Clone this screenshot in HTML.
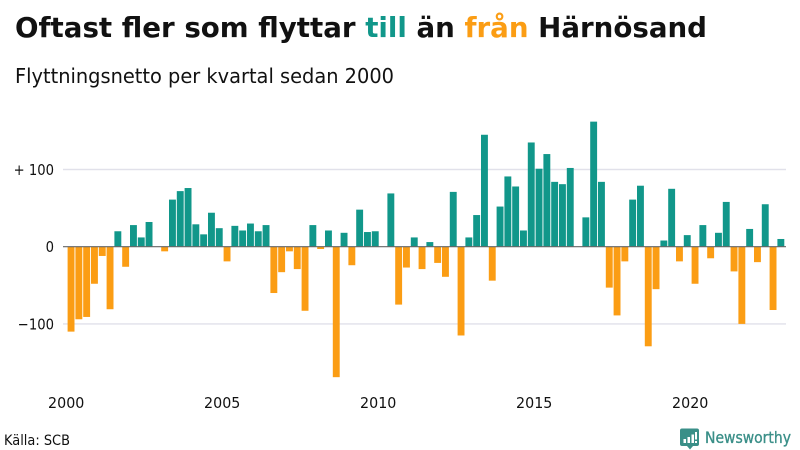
<!DOCTYPE html>
<html lang="sv">
<head>
<meta charset="utf-8">
<title>Oftast fler som flyttar till än från Härnösand</title>
<style>
html,body{margin:0;padding:0;background:#fff;width:800px;height:450px;overflow:hidden}
svg{display:block}
text{font-family:"DejaVu Sans","Liberation Sans",sans-serif;fill:#111}
</style>
</head>
<body>
<svg id="chart" width="800" height="450" viewBox="0 0 800 450" xmlns="http://www.w3.org/2000/svg">
<text x="15" y="37" font-size="28" font-weight="700" textLength="692" lengthAdjust="spacingAndGlyphs">Oftast fler som flyttar <tspan style="fill:#11978a">till</tspan> än <tspan style="fill:#fb9d14">från</tspan> Härnösand</text>
<text x="15" y="83" font-size="20.500" textLength="379" lengthAdjust="spacingAndGlyphs">Flyttningsnetto per kvartal sedan 2000</text>
<g id="grid"></g>
<g id="bars"></g>
<g id="zero"></g>
<g id="yticks"></g>
<g id="xticks"></g>
<text x="4" y="445" font-size="14.500" textLength="66" lengthAdjust="spacingAndGlyphs">Källa: SCB</text>
<g>
<path d="M682 428.500h15a2 2 0 0 1 2 2v13.500a2 2 0 0 1-2 2h-4l-3 3.500-3-3.500h-5a2 2 0 0 1-2-2v-13.500a2 2 0 0 1 2-2z" fill="#3a8f88"/>
<path d="M683.500 443v-4h2.500v4zM687.500 443v-6h2.500v6zM691.500 443v-8.500h2.500v8.500zM695 443v-2h2v2zM695 439.500v-7.500h2v7.500z" fill="#fff"/>
<text x="705" y="443" font-size="16" stroke="#3a8f88" stroke-width="0.35" textLength="86" lengthAdjust="spacingAndGlyphs" style="fill:#3a8f88">Newsworthy</text>
</g>
</svg>
<script>
const startYear = 2000;
const quarterValues = [
  -110, -94, -91, -48, -12, -81, 20, -26, 28, 12, 32, 0,
  -6, 61, 72, 76, 29, 16, 44, 24, -19, 27, 21, 30,
  20, 28, -60, -33, -6, -29, -83, 28, -3, 21, -169, 18,
  -24, 48, 19, 20, 0, 69, -75, -27, 12, -29, 6, -21,
  -39, 71, -115, 12, 41, 145, -44, 52, 91, 78, 21, 135,
  101, 120, 84, 81, 102, 0, 38, 162, 84, -53, -89, -19,
  61, 79, -129, -55, 8, 75, -19, 15, -48, 28, -15, 18,
  58, -32, -100, 23, -20, 55, -82, 10
];
const yTickValues = [100, 0, -100];
const yTickLabels = ["+ 100", "0", "\u2212100"];
const xTickYears = [2000, 2005, 2010, 2015, 2020];

const NS = "http://www.w3.org/2000/svg";
const xBand = 7.8;
const xOrigin = 67.2;
function xScale(quarterIndex) { return xOrigin + quarterIndex * xBand; }
function yScale(value) { return 246.7 - value * 0.772; }
function make(tag, attrs) {
  const el = document.createElementNS(NS, tag);
  for (const k in attrs) el.setAttribute(k, attrs[k]);
  return el;
}
function narrow(t, factor) {
  t.setAttribute("textLength", (t.getComputedTextLength() * factor).toFixed(2));
  t.setAttribute("lengthAdjust", "spacingAndGlyphs");
}

const grid = document.getElementById("grid");
const yticks = document.getElementById("yticks");
yTickValues.forEach(function (v, i) {
  if (v !== 0) {
    const line = make("line", { x1: 63, x2: 786, y1: yScale(v), y2: yScale(v), stroke: "#e1e1ea", "stroke-width": 1.4 });
    
    
    grid.appendChild(line);
  }
  const t = make("text", { x: 54, y: yScale(v) + 5.5, "text-anchor": "end", "font-size": 15.500 });
  
  
  t.textContent = yTickLabels[i];
  yticks.appendChild(t);
  narrow(t, 0.85);
});

const bars = document.getElementById("bars");
quarterValues.forEach(function (v, i) {
  if (v === 0) return;
  const top = yScale(Math.max(v, 0));
  const bottom = yScale(Math.min(v, 0));
  const r = make("rect", {
    x: xScale(i) + 0.4,
    y: top,
    width: xBand - 0.9,
    height: bottom - top,
    fill: v > 0 ? "#11978a" : "#fb9d14"
  });
  
  
  bars.appendChild(r);
});

const zeroLine = make("line", { x1: 63, x2: 786, y1: yScale(0), y2: yScale(0), stroke: "#666", "stroke-width": 1.2 });


document.getElementById("zero").appendChild(zeroLine);

const xticks = document.getElementById("xticks");
xTickYears.forEach(function (year) {
  const t = make("text", { x: xScale((year - startYear) * 4) - 1, y: 408, "text-anchor": "middle", "font-size": 15.500 });
  
  
  t.textContent = year;
  xticks.appendChild(t);
  narrow(t, 0.92);
});
</script>
</body>
</html>
